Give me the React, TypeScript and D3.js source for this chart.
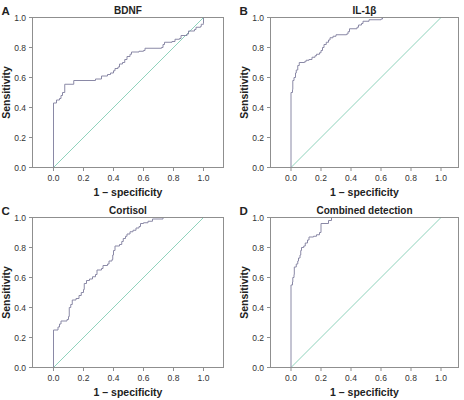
import * as d3 from "d3"

// ROC points (1 - specificity, sensitivity) for each marker
const bdnfFpr = [0, 0, 0.02, 0.04, 0.05, 0.06, 0.075, 0.135, 0.27, 0.28, 0.31, 0.32, 0.36, 0.38, 0.40, 0.41, 0.43, 0.44, 0.46, 0.475, 0.49, 0.51, 0.52, 0.57, 0.60, 0.61, 0.72, 0.73, 0.74, 0.79, 0.81, 0.84, 0.85, 0.89, 0.90, 0.94, 0.95, 0.98, 0.985, 1.0, 1.0]
const bdnfTpr = [0, 0.43, 0.45, 0.46, 0.48, 0.50, 0.555, 0.58, 0.58, 0.59, 0.59, 0.61, 0.62, 0.63, 0.645, 0.66, 0.67, 0.69, 0.70, 0.72, 0.74, 0.755, 0.77, 0.775, 0.78, 0.795, 0.80, 0.82, 0.835, 0.84, 0.855, 0.86, 0.88, 0.89, 0.91, 0.92, 0.935, 0.94, 0.955, 0.96, 1.0]

const il1bFpr = [0, 0, 0.01, 0.012, 0.02, 0.03, 0.035, 0.045, 0.055, 0.09, 0.10, 0.12, 0.14, 0.16, 0.17, 0.19, 0.20, 0.21, 0.22, 0.235, 0.25, 0.26, 0.28, 0.30, 0.37, 0.38, 0.39, 0.44, 0.45, 0.47, 0.48, 0.52, 0.60, 0.61, 1.0]
const il1bTpr = [0, 0.50, 0.52, 0.58, 0.60, 0.63, 0.65, 0.68, 0.70, 0.705, 0.715, 0.72, 0.735, 0.745, 0.755, 0.765, 0.78, 0.80, 0.82, 0.835, 0.85, 0.865, 0.875, 0.885, 0.89, 0.905, 0.925, 0.935, 0.95, 0.96, 0.975, 0.985, 0.99, 1.0, 1.0]

const cortisolFpr = [0, 0, 0.03, 0.04, 0.05, 0.09, 0.10, 0.105, 0.115, 0.125, 0.15, 0.17, 0.185, 0.20, 0.205, 0.22, 0.24, 0.26, 0.28, 0.29, 0.32, 0.33, 0.36, 0.37, 0.39, 0.395, 0.40, 0.41, 0.44, 0.455, 0.465, 0.48, 0.49, 0.51, 0.53, 0.55, 0.57, 0.58, 0.60, 0.63, 0.66, 0.73, 1.0]
const cortisolTpr = [0, 0.25, 0.27, 0.29, 0.31, 0.32, 0.34, 0.40, 0.42, 0.45, 0.46, 0.48, 0.50, 0.52, 0.56, 0.58, 0.59, 0.605, 0.62, 0.65, 0.66, 0.68, 0.69, 0.71, 0.72, 0.75, 0.78, 0.81, 0.82, 0.84, 0.86, 0.875, 0.89, 0.905, 0.915, 0.93, 0.94, 0.96, 0.965, 0.975, 0.99, 1.0, 1.0]

const combinedFpr = [0, 0, 0.01, 0.012, 0.02, 0.022, 0.035, 0.045, 0.05, 0.06, 0.065, 0.07, 0.085, 0.095, 0.11, 0.12, 0.15, 0.17, 0.19, 0.20, 0.24, 0.25, 0.27, 1.0]
const combinedTpr = [0, 0.55, 0.57, 0.60, 0.62, 0.67, 0.69, 0.71, 0.73, 0.75, 0.78, 0.80, 0.81, 0.83, 0.85, 0.87, 0.875, 0.885, 0.90, 0.96, 0.96, 0.98, 1.0, 1.0]

const tickValues = [0, 0.2, 0.4, 0.6, 0.8, 1.0]
const panelLetters = ["A", "B", "C", "D"]
const panelTitles = ["BDNF", "IL-1β", "Cortisol", "Combined detection"]

const font = "'Liberation Sans', Arial, Helvetica, sans-serif"
const boxColor = "#8f8f8f"
const curveColor = "#8a89a6"
const refColor = "#8fd3bc"
const textColor = "#333"

function RocPanel({ letter, title, fpr, tpr, left, top, x0, x1, right }) {
    const bottom = top + 150
    const x = d3.scaleLinear([0, 1], [x0, x1])
    const y = d3.scaleLinear([0, 1], [bottom, top])
    const fmt = d3.format(".1f")
    const cx = (left + right) / 2

    const pts = fpr.map((f, i) => [f, tpr[i]])
    const line = d3.line().x(d => x(d[0])).y(d => y(d[1])).curve(d3.curveStepAfter)

    return (
        <g fontFamily={font}>
            {/* panel letter and title */}
            <text x={left - 31} y={top - 3} fontSize="11.5" fontWeight="bold" fill="#222">{letter}</text>
            <text x={cx} y={top - 4} fontSize="10" fontWeight="bold" fill="#222" textAnchor="middle">{title}</text>

            {/* chance line */}
            <line x1={x(0)} y1={y(0)} x2={x(1)} y2={y(1)} stroke={refColor} strokeWidth="1" />

            {/* ROC curve */}
            <path d={line(pts)} fill="none" stroke={curveColor} strokeWidth="1" />

            {/* frame */}
            <rect x={left} y={top} width={right - left} height={bottom - top} fill="none" stroke={boxColor} strokeWidth="1" />

            {/* y ticks */}
            {tickValues.map(t => (
                <g key={"y" + t}>
                    <line x1={left - 3.5} x2={left} y1={y(t)} y2={y(t)} stroke={boxColor} />
                    <text x={left - 6.5} y={y(t)} dy="0.4em" fontSize="8.5" fill={textColor} textAnchor="end">{fmt(t)}</text>
                </g>
            ))}

            {/* x ticks */}
            {tickValues.map(t => (
                <g key={"x" + t}>
                    <line x1={x(t)} x2={x(t)} y1={bottom} y2={bottom + 3.5} stroke={boxColor} />
                    <text x={x(t)} y={bottom + 13} fontSize="8.5" fill={textColor} textAnchor="middle">{fmt(t)}</text>
                </g>
            ))}

            {/* axis titles */}
            <text x={cx} y={bottom + 28.5} fontSize="10.5" fontWeight="bold" fill="#222" textAnchor="middle">1 – specificity</text>
            <text transform={`translate(${left - 23}, ${(top + bottom) / 2}) rotate(-90)`} fontSize="10.5" fontWeight="bold" fill="#222" textAnchor="middle">Sensitivity</text>
        </g>
    )
}

export default function App() {
    const series = [
        [bdnfFpr, bdnfTpr],
        [il1bFpr, il1bTpr],
        [cortisolFpr, cortisolTpr],
        [combinedFpr, combinedTpr]
    ]
    // left column / right column frame geometry
    const cols = [
        { left: 32.5, right: 223.5, x0: 53.5, x1: 203.5 },
        { left: 270.5, right: 458.5, x0: 291, x1: 441 }
    ]
    const rows = [17.5, 217.5]

    return (
        <svg width={464} height={400} style={{ position: "absolute", left: 0, top: 0, background: "#fff" }}>
            {series.map((s, i) => {
                const c = cols[i % 2]
                return (
                    <RocPanel
                        key={i}
                        letter={panelLetters[i]}
                        title={panelTitles[i]}
                        fpr={s[0]}
                        tpr={s[1]}
                        left={c.left}
                        right={c.right}
                        x0={c.x0}
                        x1={c.x1}
                        top={rows[Math.floor(i / 2)]}
                    />
                )
            })}
        </svg>
    )
}
